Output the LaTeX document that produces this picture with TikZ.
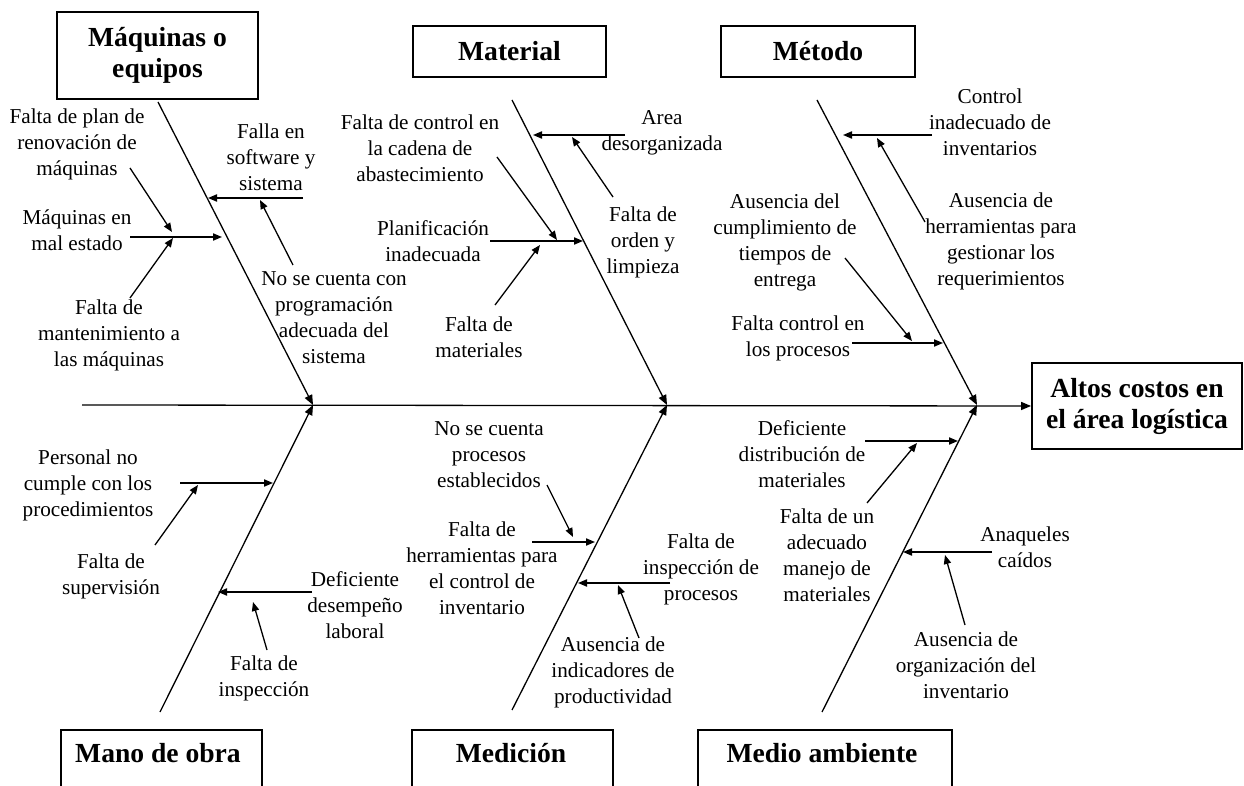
\documentclass[tikz,border=0pt]{standalone}
\usepackage{fontspec}
\setmainfont{Liberation Serif}
\usetikzlibrary{arrows.meta}

\begin{document}
\begin{tikzpicture}[x=0.5pt,y=-0.5pt]
    \tikzstyle{every node}+=[inner sep=0pt]
    \tikzstyle{causa}=[align=center,font=\fontsize{10.6}{13}\selectfont]
    \tikzstyle{titulo}=[align=center,font=\fontsize{13.8}{15.5}\selectfont\bfseries]
    \tikzstyle{caja}=[titulo,draw=black,line width=0.9pt]
    \tikzstyle{espina}=[black,line width=0.65pt,-{Triangle[length=5pt,width=4pt]}]
    \tikzstyle{flecha}=[black,line width=0.65pt,-{Triangle[length=4.5pt,width=3.6pt]}]
    \useasboundingbox (0,0) rectangle (1244,786);
    \clip (0,0) rectangle (1244,786);
    % categorias
    \node [caja,minimum width=100.5pt,minimum height=43.5pt] (maq) at (157.5,55.5) {Máquinas o\\equipos};
    \node [caja,minimum width=96.5pt,minimum height=25.5pt] (mat) at (509.5,51.5) {Material};
    \node [caja,minimum width=97pt,minimum height=25.5pt] (met) at (818,51.5) {Método};
    \node [caja,minimum width=100.5pt,minimum height=40pt,anchor=north] (mano) at (161.5,729) {};
    \node [caja,minimum width=100.5pt,minimum height=40pt,anchor=north] (medi) at (512.5,729) {};
    \node [caja,minimum width=127pt,minimum height=40pt,anchor=north] (amb) at (825,729) {};
    \draw (158,753) node [titulo] (manot) {Mano de obra};
    \draw (511,753) node [titulo] (medit) {Medición};
    \draw (822,753) node [titulo] (ambt) {Medio ambiente};
    \node [caja,minimum width=105pt,minimum height=43pt] (efecto) at (1137,406) {Altos costos en\\el área logística};
    % espina central
    \coordinate (cola) at (82,405);
    \coordinate (j1) at (313,405);
    \coordinate (j2) at (667,405);
    \coordinate (j3) at (977,405);
    \coordinate (e1) at (158,102);
    \coordinate (e2) at (512,100);
    \coordinate (e3) at (817,100);
    \coordinate (e4) at (160,712);
    \coordinate (e5) at (512,710);
    \coordinate (e6) at (822,712);
    \draw [espina] (cola) -- (efecto.west);
    \draw [espina] (e1) -- (j1);
    \draw [espina] (e2) -- (j2);
    \draw [espina] (e3) -- (j3);
    \draw [espina] (e4) -- (j1);
    \draw [espina] (e5) -- (j2);
    \draw [espina] (e6) -- (j3);
    % causas
    \draw (77,144) node [causa] (c1) {Falta de plan de\\renovación de\\máquinas};
    \draw (77,230) node [causa] (c2) {Máquinas en\\mal estado};
    \draw (109,335) node [causa] (c3) {Falta de\\mantenimiento a\\las máquinas};
    \draw (271,157) node [causa] (c4) {Falla en\\software y\\sistema};
    \draw (334,318) node [causa] (c5) {No se cuenta con\\programación\\adecuada del\\sistema};
    \draw (420,148) node [causa] (c6) {Falta de control en\\la cadena de\\abastecimiento};
    \draw (433,241) node [causa] (c7) {Planificación\\inadecuada};
    \draw (479,337) node [causa] (c8) {Falta de\\materiales};
    \draw (662,133) node [causa] (c9) {Area\\desorganizada};
    \draw (643,242) node [causa] (c10) {Falta de\\orden y\\limpieza};
    \draw (990,122) node [causa] (c11) {Control\\inadecuado de\\inventarios};
    \draw (1001,241) node [causa] (c12) {Ausencia de\\herramientas para\\gestionar los\\requerimientos};
    \draw (785,242) node [causa] (c13) {Ausencia del\\cumplimiento de\\tiempos de\\entrega};
    \draw (798,338) node [causa] (c14) {Falta control en\\los procesos};
    \draw (88,485) node [causa] (c15) {Personal no\\cumple con los\\procedimientos};
    \draw (111,576) node [causa] (c16) {Falta de\\supervisión};
    \draw (355,605) node [causa] (c17) {Deficiente\\desempeño\\laboral};
    \draw (264,678) node [causa] (c18) {Falta de\\inspección};
    \draw (489,455) node [causa] (c19) {No se cuenta\\procesos\\establecidos};
    \draw (482,568) node [causa] (c20) {Falta de\\herramientas para\\el control de\\inventario};
    \draw (701,569) node [causa] (c21) {Falta de\\inspección de\\procesos};
    \draw (613,672) node [causa] (c22) {Ausencia de\\indicadores de\\productividad};
    \draw (802,454) node [causa] (c23) {Deficiente\\distribución de\\materiales};
    \draw (827,555) node [causa] (c24) {Falta de un\\adecuado\\manejo de\\materiales};
    \draw (1025,547) node [causa] (c25) {Anaqueles\\caídos};
    \draw (966,665) node [causa] (c26) {Ausencia de\\organización del\\inventario};
    % extremos de las flechas
    \coordinate (c1a) at (130,168); \coordinate (c1b) at (172,232);
    \coordinate (c2a) at (130,237); \coordinate (c2b) at (222,237);
    \coordinate (c3a) at (130,298); \coordinate (c3b) at (173,238);
    \coordinate (c4a) at (303,198); \coordinate (c4b) at (208,198);
    \coordinate (c5a) at (293,265); \coordinate (c5b) at (260,200);
    \coordinate (c6a) at (497,157); \coordinate (c6b) at (557,240);
    \coordinate (c7a) at (490,241); \coordinate (c7b) at (583,241);
    \coordinate (c8a) at (495,305); \coordinate (c8b) at (540,245);
    \coordinate (c9a) at (625,135); \coordinate (c9b) at (533,135);
    \coordinate (c10a) at (613,197); \coordinate (c10b) at (572,137);
    \coordinate (c11a) at (932,135); \coordinate (c11b) at (843,135);
    \coordinate (c12a) at (925,222); \coordinate (c12b) at (877,138);
    \coordinate (c13a) at (845,258); \coordinate (c13b) at (912,341);
    \coordinate (c14a) at (852,343); \coordinate (c14b) at (943,343);
    \coordinate (c15a) at (180,483); \coordinate (c15b) at (273,483);
    \coordinate (c16a) at (155,545); \coordinate (c16b) at (198,485);
    \coordinate (c17a) at (312,592); \coordinate (c17b) at (218,592);
    \coordinate (c18a) at (267,650); \coordinate (c18b) at (253,602);
    \coordinate (c19a) at (547,485); \coordinate (c19b) at (573,537);
    \coordinate (c20a) at (532,542); \coordinate (c20b) at (595,542);
    \coordinate (c21a) at (670,583); \coordinate (c21b) at (578,583);
    \coordinate (c22a) at (639,638); \coordinate (c22b) at (618,585);
    \coordinate (c23a) at (865,441); \coordinate (c23b) at (958,441);
    \coordinate (c24a) at (867,503); \coordinate (c24b) at (917,443);
    \coordinate (c25a) at (992,552); \coordinate (c25b) at (903,552);
    \coordinate (c26a) at (965,625); \coordinate (c26b) at (945,555);
    \draw [flecha] (c1a) -- (c1b);
    \draw [flecha] (c2a) -- (c2b);
    \draw [flecha] (c3a) -- (c3b);
    \draw [flecha] (c4a) -- (c4b);
    \draw [flecha] (c5a) -- (c5b);
    \draw [flecha] (c6a) -- (c6b);
    \draw [flecha] (c7a) -- (c7b);
    \draw [flecha] (c8a) -- (c8b);
    \draw [flecha] (c9a) -- (c9b);
    \draw [flecha] (c10a) -- (c10b);
    \draw [flecha] (c11a) -- (c11b);
    \draw [flecha] (c12a) -- (c12b);
    \draw [flecha] (c13a) -- (c13b);
    \draw [flecha] (c14a) -- (c14b);
    \draw [flecha] (c15a) -- (c15b);
    \draw [flecha] (c16a) -- (c16b);
    \draw [flecha] (c17a) -- (c17b);
    \draw [flecha] (c18a) -- (c18b);
    \draw [flecha] (c19a) -- (c19b);
    \draw [flecha] (c20a) -- (c20b);
    \draw [flecha] (c21a) -- (c21b);
    \draw [flecha] (c22a) -- (c22b);
    \draw [flecha] (c23a) -- (c23b);
    \draw [flecha] (c24a) -- (c24b);
    \draw [flecha] (c25a) -- (c25b);
    \draw [flecha] (c26a) -- (c26b);
\end{tikzpicture}
\end{document}
